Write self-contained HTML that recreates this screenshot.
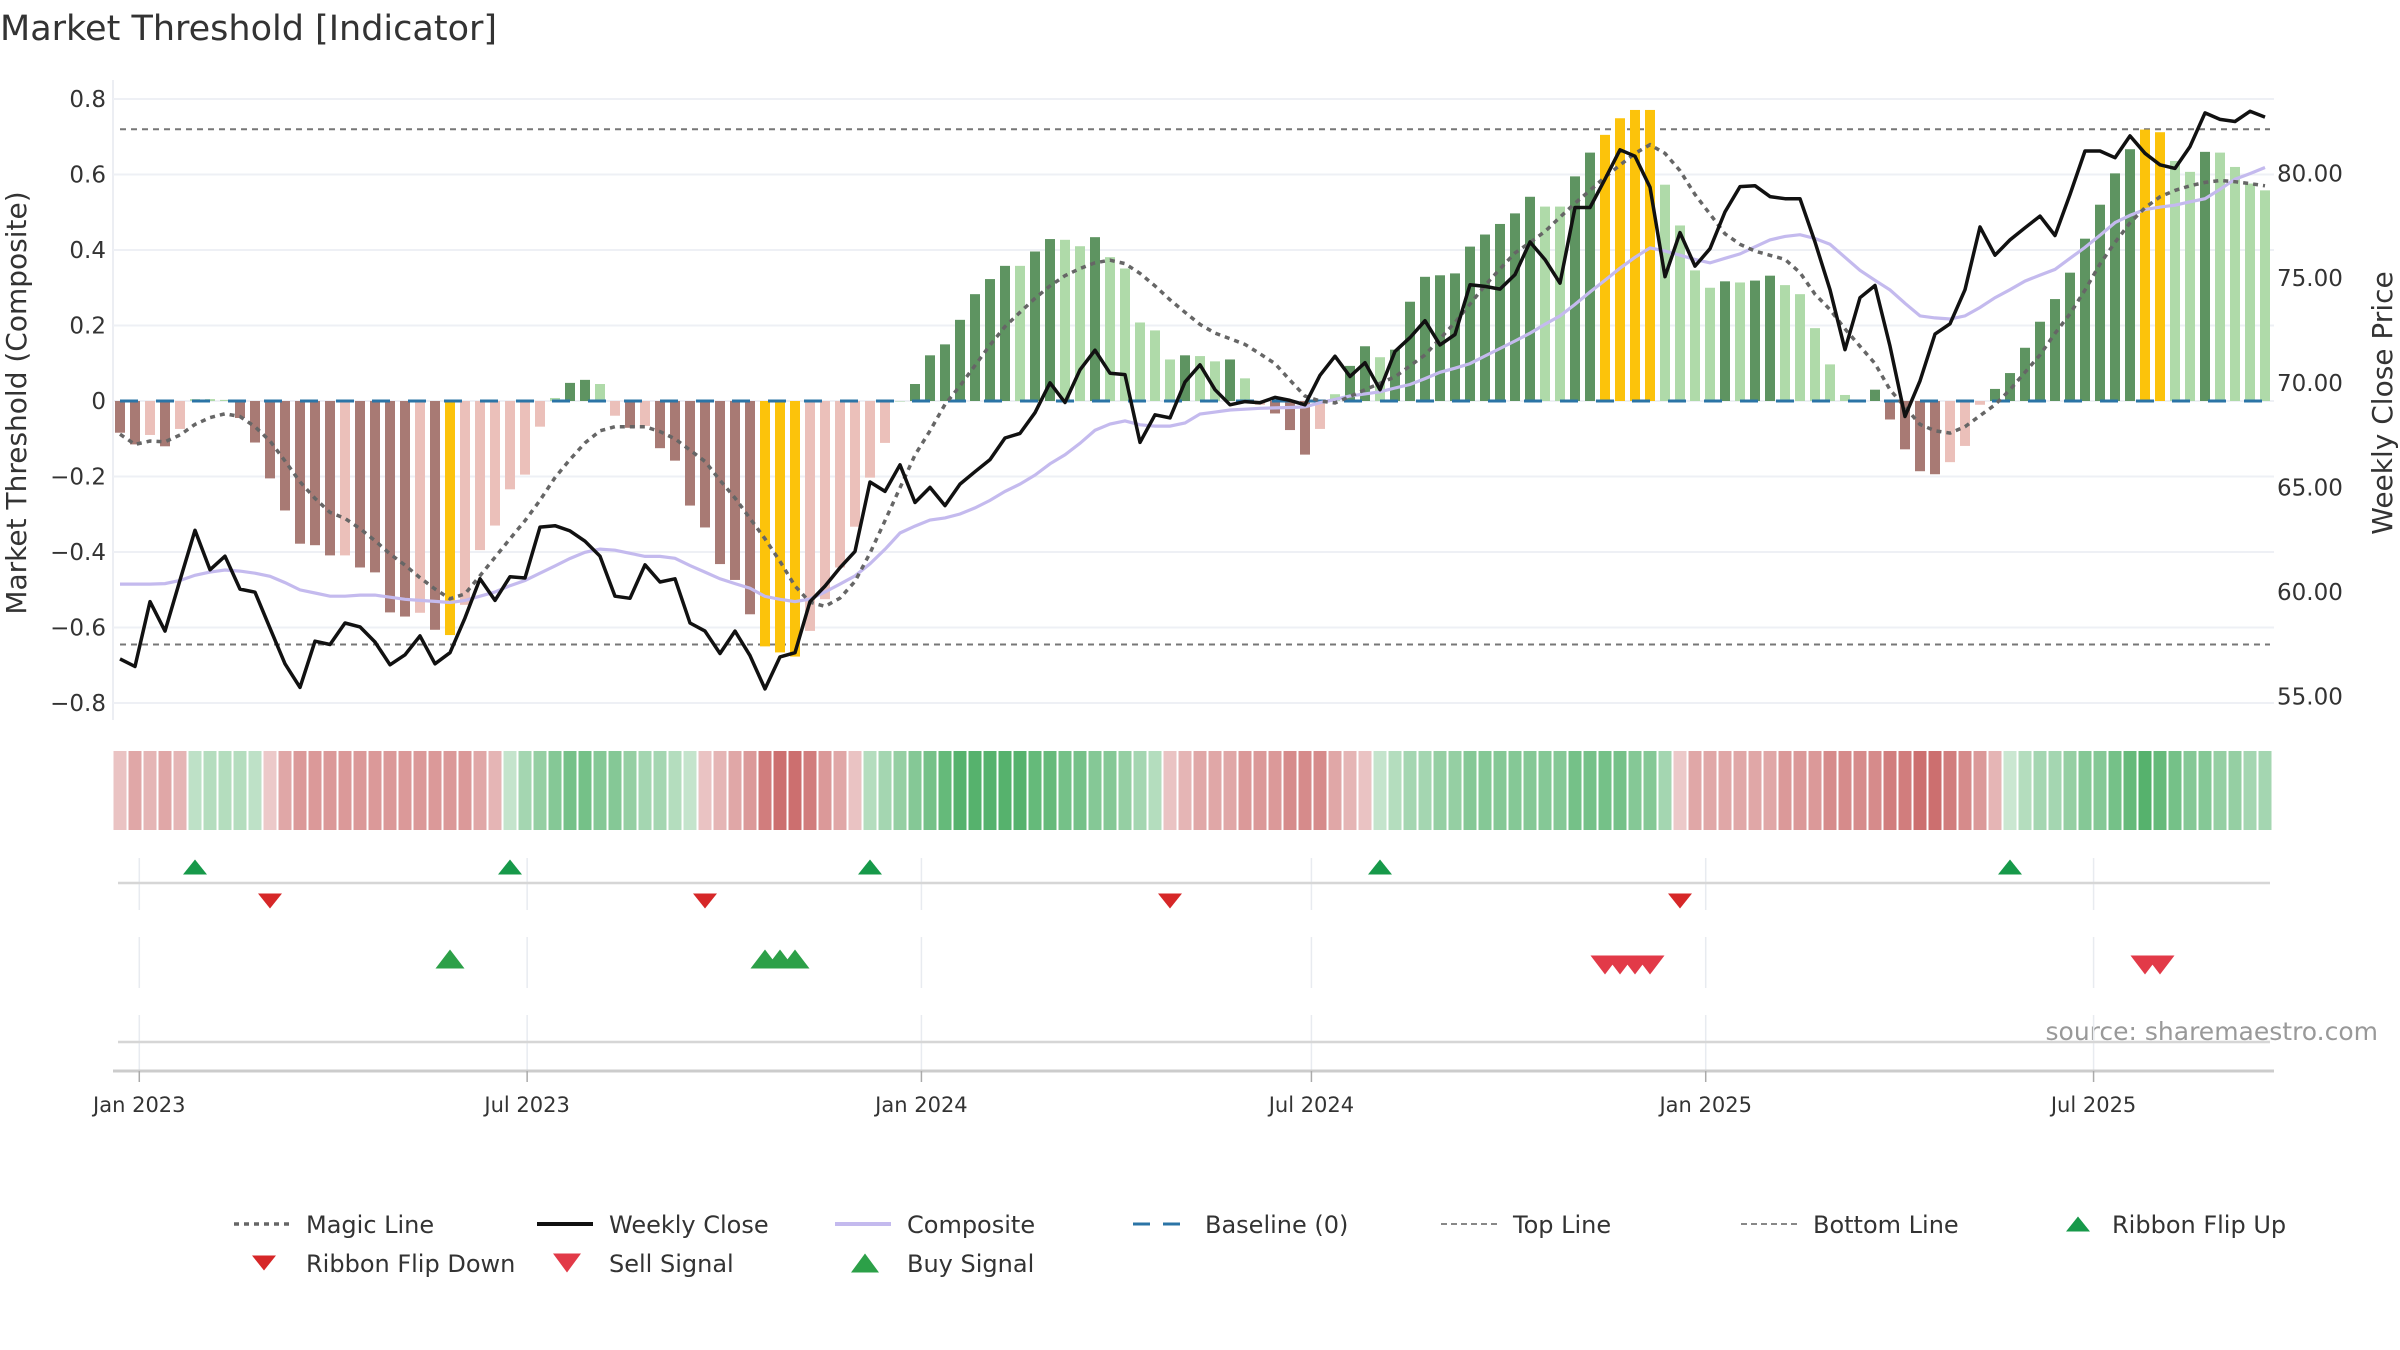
<!DOCTYPE html>
<html><head><meta charset="utf-8"><title>Market Threshold [Indicator]</title>
<style>
html,body{margin:0;padding:0;background:#fff;}
svg{display:block;font-family:"DejaVu Sans","Liberation Sans",sans-serif;}
</style></head>
<body>
<svg id="chart" width="2400" height="1350" viewBox="0 0 2400 1350" xmlns="http://www.w3.org/2000/svg">
<rect width="2400" height="1350" fill="#fff"/>
<text x="0" y="40" font-size="35" fill="#333">Market Threshold [Indicator]</text>
<text transform="translate(26,403) rotate(-90)" text-anchor="middle" font-size="28" fill="#333">Market Threshold (Composite)</text>
<text transform="translate(2392,403) rotate(-90)" text-anchor="middle" font-size="28" fill="#333">Weekly Close Price</text>
<text x="2378" y="1040" text-anchor="end" font-size="25" fill="#999">source: sharemaestro.com</text>
<g id="grid"></g><g id="bars"></g><g id="lines"></g><g id="ribbon"></g><g id="panels"></g><g id="xaxis"></g><g id="legend"></g>
</svg>
<script>
const barValues = [-0.084,-0.115,-0.09,-0.12,-0.074,0.005,0.005,0.003,-0.045,-0.11,
-0.205,-0.29,-0.378,-0.382,-0.409,-0.409,-0.441,-0.454,-0.56,-0.571,
-0.561,-0.606,-0.62,-0.54,-0.395,-0.33,-0.234,-0.195,-0.068,0.008,
0.048,0.056,0.045,-0.039,-0.071,-0.066,-0.125,-0.158,-0.277,-0.335,
-0.432,-0.474,-0.565,-0.65,-0.666,-0.677,-0.609,-0.525,-0.441,-0.333,
-0.203,-0.111,0,0.045,0.121,0.15,0.215,0.283,0.323,0.358,
0.358,0.396,0.429,0.427,0.41,0.434,0.381,0.351,0.208,0.187,
0.11,0.121,0.119,0.105,0.11,0.06,-0.01,-0.033,-0.077,-0.142,
-0.074,0.018,0.093,0.145,0.116,0.136,0.263,0.329,0.333,0.338,
0.409,0.441,0.469,0.497,0.541,0.515,0.515,0.595,0.658,0.705,
0.749,0.771,0.771,0.573,0.465,0.346,0.30,0.317,0.314,0.319,
0.332,0.307,0.283,0.193,0.097,0.016,0,0.03,-0.049,-0.128,
-0.186,-0.194,-0.162,-0.119,-0.01,0.032,0.074,0.141,0.21,0.27,
0.34,0.43,0.52,0.603,0.667,0.719,0.712,0.636,0.607,0.66,
0.658,0.62,0.576,0.558];
const weeklyClose = [56.8,56.44,59.54,58.13,60.57,62.95,61.06,61.71,60.14,59.99,
58.27,56.57,55.44,57.65,57.49,58.52,58.33,57.61,56.52,57.0,
57.9,56.57,57.1,58.76,60.63,59.6,60.73,60.67,63.1,63.17,
62.92,62.43,61.71,59.8,59.7,61.3,60.48,60.63,58.52,58.13,
57.06,58.13,56.96,55.37,56.9,57.1,59.54,60.28,61.16,61.94,
65.26,64.81,66.08,64.28,65.0,64.13,65.16,65.75,66.33,67.36,
67.58,68.57,70.0,69.06,70.62,71.56,70.46,70.39,67.15,68.47,
68.32,70.04,70.86,69.67,68.95,69.10,69.05,69.30,69.16,68.95,
70.36,71.27,70.30,70.96,69.67,71.50,72.16,72.97,71.81,72.31,
74.69,74.61,74.48,75.17,76.73,75.89,74.76,78.38,78.38,79.73,
81.14,80.83,79.35,75.07,77.18,75.58,76.41,78.17,79.38,79.42,
78.90,78.80,78.80,76.73,74.45,71.58,74.07,74.65,71.75,68.39,
70.09,72.33,72.82,74.45,77.45,76.10,76.83,77.41,77.97,77.04,
79.0,81.08,81.08,80.76,81.80,80.97,80.42,80.25,81.29,82.90,
82.59,82.49,82.98,82.70];
const compositeLine = [60.38,60.38,60.38,60.40,60.55,60.80,60.95,61.05,61.0,60.9,
60.75,60.45,60.1,59.95,59.8,59.8,59.85,59.85,59.75,59.65,
59.6,59.55,59.5,59.6,59.8,60.0,60.3,60.55,60.9,61.25,
61.6,61.9,62.05,62.0,61.85,61.7,61.7,61.61,61.26,60.95,
60.63,60.4,60.18,59.79,59.65,59.54,59.66,60.0,60.38,60.77,
61.35,62.04,62.82,63.15,63.44,63.54,63.73,64.02,64.38,64.81,
65.16,65.59,66.13,66.56,67.11,67.73,68.03,68.18,67.99,67.93,
67.93,68.08,68.51,68.6,68.7,68.74,68.78,68.8,68.82,68.85,
69.05,69.2,69.37,69.47,69.57,69.75,69.92,70.2,70.5,70.7,
70.92,71.28,71.64,72.0,72.37,72.8,73.2,73.75,74.34,74.9,
75.48,76.0,76.45,76.3,76.1,75.9,75.73,75.95,76.16,76.5,
76.83,77.0,77.08,76.9,76.62,76.0,75.38,74.9,74.44,73.8,
73.2,73.1,73.05,73.2,73.6,74.07,74.45,74.86,75.15,75.42,
75.95,76.47,77.05,77.66,78.0,78.28,78.4,78.49,78.65,78.8,
79.25,79.73,80.0,80.29];
const magicLine = [-0.088,-0.115,-0.106,-0.108,-0.09,-0.062,-0.044,-0.034,-0.041,-0.068,
-0.106,-0.159,-0.214,-0.258,-0.295,-0.311,-0.338,-0.370,-0.405,-0.435,
-0.468,-0.498,-0.524,-0.511,-0.463,-0.414,-0.365,-0.317,-0.263,-0.203,
-0.155,-0.111,-0.079,-0.068,-0.068,-0.068,-0.081,-0.10,-0.13,-0.16,
-0.21,-0.257,-0.311,-0.365,-0.425,-0.490,-0.533,-0.544,-0.522,-0.478,
-0.403,-0.317,-0.230,-0.143,-0.079,-0.009,0.04,0.094,0.148,0.197,
0.235,0.272,0.305,0.332,0.351,0.366,0.373,0.364,0.338,0.305,
0.268,0.235,0.203,0.18,0.165,0.150,0.125,0.099,0.055,0.013,
0.0,-0.005,0.012,0.030,0.047,0.064,0.093,0.122,0.165,0.208,
0.257,0.306,0.35,0.392,0.42,0.449,0.487,0.524,0.558,0.593,
0.625,0.656,0.679,0.656,0.61,0.547,0.495,0.443,0.415,0.397,
0.386,0.375,0.340,0.283,0.242,0.191,0.145,0.099,0.030,-0.016,
-0.062,-0.079,-0.085,-0.068,-0.039,-0.010,0.030,0.076,0.122,0.179,
0.231,0.294,0.363,0.420,0.472,0.512,0.541,0.558,0.570,0.579,
0.584,0.581,0.576,0.570];
const ribbonLevels = [-1,-2,-1.5,-2,-1.5,1.2,1.5,1.5,1.5,1.2,
-0.8,-2,-2.5,-2.5,-2.5,-2.5,-2.5,-2.5,-2.5,-2.5,-2.5,-2.5,-2.5,-2.5,-2,-1.5,
1,2,2.5,3,3.5,3.5,3,3,2.5,2,2,1.5,1,
-1,-1.5,-2,-2.5,-3.5,-4,-4,-3.5,-2.5,-2,-1,
1.5,2,2.5,3,3.5,4,4.5,4.5,4.5,4.5,4.5,4,4,3.5,3.5,3,3,2.5,2,1.5,
-1,-1.5,-2,-2,-2,-2.5,-2.5,-2.5,-3,-3,-3,-2,-1.5,-1,
1,1.5,2,2,2.5,2.5,3,3,3,3,3,3,3,3.5,3.5,3.5,3.5,3,3,2,
-0.8,-2,-2,-2,-2,-2,-2,-2.5,-2.5,-2.5,-3,-3,-3,-3,-3.5,-3.5,-4,-4,-3.5,-3,-2.5,-1.5,
0.8,1.5,2,2,2.5,3,3,3.5,4,4.5,4,3.5,3,3,2.5,2.5,2,2];
const buySignals = [22,43,44,45];
const sellSignals = [99,100,101,102,135,136];
const leftTicks = [0.8,0.6,0.4,0.2,0,-0.2,-0.4,-0.6,-0.8];
const rightTicks = [80,75,70,65,60,55];
const dateTicks = ["2023-01-01","2023-07-01","2024-01-01","2024-07-01","2025-01-01","2025-07-01"];
const dateTickLabels = ["Jan 2023","Jul 2023","Jan 2024","Jul 2024","Jan 2025","Jul 2025"];
const topLineValue = 0.72;
const bottomLineValue = -0.645;

const NS="http://www.w3.org/2000/svg";
const startDate = Date.UTC(2022,11,23);
function xIdx(i){return 120+15*i;}
function xDate(s){const p=s.split("-");const d=(Date.UTC(+p[0],+p[1]-1,+p[2])-startDate)/86400000;return 120+15*d/7;}
function yL(v){return 401-v*377.5;}
function yR(p){return 173.6-(p-80)*20.92;}
function mk(tag,attrs,parent){const e=document.createElementNS(NS,tag);for(const k in attrs)e.setAttribute(k,attrs[k]);parent.appendChild(e);return e;}
function fmt(v){return v===0?"0":(v<0?"\u2212":"")+Math.abs(v).toFixed(1);}
function mix(c,t){const r=Math.round(255+(c[0]-255)*t),g=Math.round(255+(c[1]-255)*t),b=Math.round(255+(c[2]-255)*t);return `rgb(${r},${g},${b})`;}
function tri(cx,cy,w,h,up){return up?`${cx-w/2},${cy+h/2} ${cx+w/2},${cy+h/2} ${cx},${cy-h/2}`:`${cx-w/2},${cy-h/2} ${cx+w/2},${cy-h/2} ${cx},${cy+h/2}`;}

const grid=document.getElementById("grid");
mk("line",{x1:113,y1:80,x2:113,y2:720,stroke:"#eceef3","stroke-width":2},grid);
leftTicks.forEach(v=>{
  const gl=mk("line",{x1:113,y1:yL(v),x2:2274,y2:yL(v),stroke:"#eef0f5","stroke-width":2},grid);
  
  
  const t=mk("text",{x:106,y:yL(v)+8,"text-anchor":"end","font-size":23,fill:"#333"},grid);
  t.textContent=fmt(v);
  
  
});
rightTicks.forEach(p=>{
  const t=mk("text",{x:2277,y:yR(p)+8,"font-size":23,fill:"#333"},grid);
  t.textContent=p.toFixed(2);
  
  
});
const tl=mk("line",{x1:120,y1:yL(topLineValue),x2:2270,y2:yL(topLineValue),stroke:"#777","stroke-width":2,"stroke-dasharray":"6 5"},grid);


const bl=mk("line",{x1:120,y1:yL(bottomLineValue),x2:2270,y2:yL(bottomLineValue),stroke:"#777","stroke-width":2,"stroke-dasharray":"6 5"},grid);



const bars=document.getElementById("bars");
barValues.forEach((v,i)=>{
  let col;
  const prev=i>0?barValues[i-1]:0;
  const dark=Math.abs(v)>Math.abs(prev);
  if(buySignals.includes(i)||sellSignals.includes(i)) col="#fcc30b";
  else if(v>=0) col=dark?"#5e9461":"#afdaa9";
  else col=dark?"#a87a74":"#ebc0ba";
  const y0=yL(0),y1=yL(v);
  const r=mk("rect",{x:xIdx(i)-5,y:Math.min(y0,y1),width:10,height:Math.max(0.5,Math.abs(y1-y0)),fill:col},bars);
  
  
});
const base=mk("line",{x1:120,y1:yL(0),x2:2270,y2:yL(0),stroke:"#2b74a6","stroke-width":3,"stroke-dasharray":"18 18"},bars);



const lines=document.getElementById("lines");
function pathOf(arr,yf){return arr.map((v,i)=>(i?"L":"M")+xIdx(i).toFixed(1)+","+yf(v).toFixed(1)).join(" ");}
const comp=mk("path",{d:pathOf(compositeLine,yR),fill:"none",stroke:"#c4baee","stroke-width":3.2},lines);


const magic=mk("path",{d:pathOf(magicLine,yL),fill:"none",stroke:"#666","stroke-width":3.5,"stroke-dasharray":"5 5"},lines);


const close=mk("path",{d:pathOf(weeklyClose,yR),fill:"none",stroke:"#111","stroke-width":3.5,"stroke-linejoin":"round"},lines);



const ribbon=document.getElementById("ribbon");
ribbonLevels.forEach((lv,i)=>{
  const t=lv<0?0.2+0.18*Math.abs(lv):0.14+0.16*Math.abs(lv);
  const col=lv<0?mix([200,98,98],Math.min(t,0.95)):mix([58,166,85],t);
  const r=mk("rect",{x:xIdx(i)-6.5,y:751,width:13,height:79,fill:col},ribbon);
  
  
});

const panels=document.getElementById("panels");
dateTicks.forEach(d=>{
  const x=xDate(d);
  [[858,910],[937,988],[1015,1070]].forEach(s=>{
    const g=mk("line",{x1:x,y1:s[0],x2:x,y2:s[1],stroke:"#e8ebf0","stroke-width":1.5},panels);
    
    
  });
});
const p1=mk("line",{x1:118,y1:883,x2:2270,y2:883,stroke:"#d6d6d6","stroke-width":2.5},panels);


const p3=mk("line",{x1:118,y1:1042,x2:2270,y2:1042,stroke:"#d6d6d6","stroke-width":2.5},panels);


ribbonLevels.forEach((lv,i)=>{
  if(i===0) return;
  const pv=ribbonLevels[i-1];
  if(lv>0&&pv<0){
    const m=mk("polygon",{points:tri(xIdx(i),867,24,15,true),fill:"#17994a"},panels);
    
    
  } else if(lv<0&&pv>0){
    const m=mk("polygon",{points:tri(xIdx(i),901,24,15,false),fill:"#d62728"},panels);
    
    
  }
});
buySignals.forEach(i=>{
  const m=mk("polygon",{points:tri(xIdx(i),959,29,19,true),fill:"#2ca048"},panels);
  
  
});
sellSignals.forEach(i=>{
  const m=mk("polygon",{points:tri(xIdx(i),965,29,19,false),fill:"#e23a48"},panels);
  
  
});

const xa=document.getElementById("xaxis");
const ax=mk("line",{x1:113,y1:1071,x2:2274,y2:1071,stroke:"#cccccc","stroke-width":3},xa);


dateTicks.forEach((d,k)=>{
  const x=xDate(d);
  const tk=mk("line",{x1:x,y1:1071,x2:x,y2:1082,stroke:"#aaa","stroke-width":1.5},xa);
  
  
  const t=mk("text",{x:x,y:1112,"text-anchor":"middle","font-size":21,fill:"#333"},xa);
  t.textContent=dateTickLabels[k];
  
  
});

const lg=document.getElementById("legend");
const legendItems=[
 {label:"Magic Line",x:234,y:1224,kind:"line",stroke:"#666",w:3.5,dash:"5 5"},
 {label:"Weekly Close",x:537,y:1224,kind:"line",stroke:"#111",w:4,dash:""},
 {label:"Composite",x:835,y:1224,kind:"line",stroke:"#c4baee",w:4,dash:""},
 {label:"Baseline (0)",x:1133,y:1224,kind:"line",stroke:"#2b74a6",w:3,dash:"17 13"},
 {label:"Top Line",x:1441,y:1224,kind:"line",stroke:"#888",w:2,dash:"6 4"},
 {label:"Bottom Line",x:1741,y:1224,kind:"line",stroke:"#888",w:2,dash:"6 4"},
 {label:"Ribbon Flip Up",x:2048,y:1224,kind:"up",fill:"#17994a",s:[24,15]},
 {label:"Ribbon Flip Down",x:234,y:1263,kind:"down",fill:"#d62728",s:[24,15]},
 {label:"Sell Signal",x:537,y:1263,kind:"down",fill:"#e23a48",s:[28,19]},
 {label:"Buy Signal",x:835,y:1263,kind:"up",fill:"#2ca048",s:[28,19]}
];
legendItems.forEach(it=>{
  const g=mk("g",{},lg);
  
  
  let tx=it.x+72;
  if(it.kind==="line"){
    mk("line",{x1:it.x,y1:it.y,x2:it.x+56,y2:it.y,stroke:it.stroke,"stroke-width":it.w,"stroke-dasharray":it.dash},g);
  } else {
    mk("polygon",{points:tri(it.x+30,it.y,it.s[0],it.s[1],it.kind==="up"),fill:it.fill},g);
    if(it.label==="Ribbon Flip Up") tx=it.x+64;
  }
  const t=mk("text",{x:tx,y:it.y+9,"font-size":24,fill:"#333"},g);
  t.textContent=it.label;
});
</script>
</body></html>
